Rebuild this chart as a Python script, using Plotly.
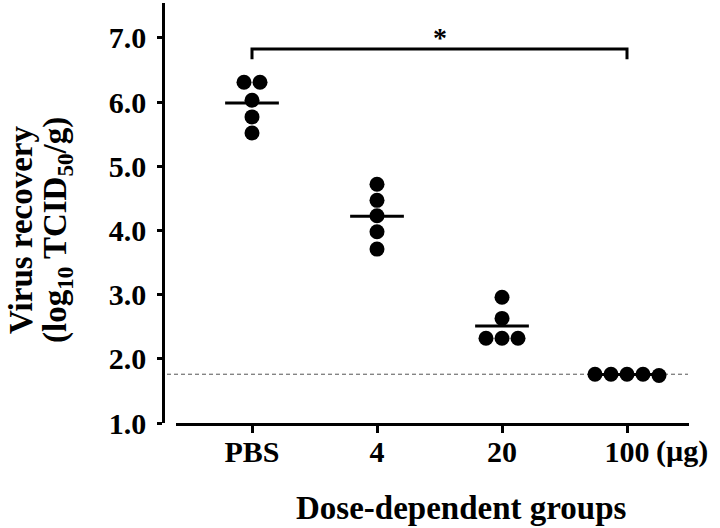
import numpy as np
import plotly.graph_objects as go

# ---- data ----
groups = ["PBS", "4", "20", "100"]
values = {
    "PBS": [6.31, 6.31, 6.03, 5.77, 5.52],
    "4":   [4.72, 4.47, 4.23, 3.98, 3.71],
    "20":  [2.96, 2.63, 2.32, 2.32, 2.32],
    "100": [1.76, 1.76, 1.76, 1.76, 1.74],
}
y_ticks = [1.0, 2.0, 3.0, 4.0, 5.0, 6.0, 7.0]
detection_limit = 1.76
sig_pair = ("PBS", "100")
sig_label = "*"

# ---- layout geometry ----
W, H = 720, 528
ml, mr, mt, mb = 163, 31, 3, 105
pw = W - ml - mr
ph = H - mt - mb
px_per_unit = 125.0
x_offset_px = 13
x_range = [-76 / px_per_unit, 3 + 62 / px_per_unit]
y_range = [1.0, 7.545]
dot_px = 15
spacing_units = 16 / px_per_unit
FONT = "Liberation Serif, Times New Roman, serif"

fig = go.Figure()

# beeswarm by rows of (near) tied values
for gi, g in enumerate(groups):
    vals = values[g]
    rows = []
    for v in vals:
        for r in rows:
            if abs(r[0] - v) < 0.1:
                r[1].append(v)
                break
        else:
            rows.append([v, [v]])
    xs, ys = [], []
    for _, members in rows:
        n = len(members)
        for k, v in enumerate(members):
            xs.append(gi + (k - (n - 1) / 2) * spacing_units)
            ys.append(v)
    fig.add_trace(go.Scatter(x=xs, y=ys, mode="markers",
                             marker=dict(size=dot_px, color="black"),
                             showlegend=False, hoverinfo="y"))
    m = float(np.mean(vals))
    fig.add_trace(go.Scatter(x=[gi - 0.215, gi + 0.215], y=[m, m], mode="lines",
                             line=dict(color="black", width=3),
                             showlegend=False, hoverinfo="skip"))

# detection limit dashed line
fig.add_shape(type="line", xref="paper", yref="y",
              x0=4 / pw, x1=(688 - ml) / pw, y0=detection_limit, y1=detection_limit,
              line=dict(color="#555555", width=1, dash="4px,3px"), layer="below")

# significance bracket
i0, i1 = groups.index(sig_pair[0]), groups.index(sig_pair[1])
yb, yl = 6.83, 6.67
fig.add_shape(type="path", xref="x", yref="y",
              path=f"M {i0},{yl} L {i0},{yb} L {i1},{yb} L {i1},{yl}",
              line=dict(color="black", width=3))
fig.add_annotation(x=(i0 + i1) / 2, y=yb, xref="x", yref="y", text=f"<b>{sig_label}</b>",
                   showarrow=False, yanchor="bottom", yshift=-6,
                   font=dict(family=FONT, size=28, color="black"))

fig.update_layout(
    width=W, height=H,
    margin=dict(l=ml, r=mr, t=mt, b=mb),
    plot_bgcolor="white", paper_bgcolor="white",
    font=dict(family=FONT, color="black"),
    xaxis=dict(domain=[x_offset_px / pw, 1], range=x_range,
               tickmode="array", tickvals=list(range(len(groups))), ticktext=groups,
               showline=True, linecolor="black", linewidth=2.5,
               ticks="outside", ticklen=7, tickwidth=2.5, tickcolor="black",
               showgrid=False, zeroline=False, ticklabelstandoff=-7,
               tickfont=dict(family=FONT, size=30, color="black", weight="bold")),
    yaxis=dict(range=y_range, anchor="free", position=0,
               tickmode="array", tickvals=y_ticks, ticktext=[f"{v:.1f}" for v in y_ticks],
               showline=True, linecolor="black", linewidth=2.5,
               ticks="outside", ticklen=5, tickwidth=2.5, tickcolor="black",
               showgrid=False, zeroline=False, ticklabelstandoff=5,
               tickfont=dict(family=FONT, size=30, color="black", weight="bold")),
)

# (µg) unit next to last tick label
fig.add_annotation(x=3 + 27 / px_per_unit, y=0, xref="x", yref="paper", text="<b>(µg)</b>",
                   showarrow=False, xanchor="left", yanchor="middle", yshift=-28,
                   font=dict(family=FONT, size=30, color="black"))

# axis titles
fig.add_annotation(x=(461 - ml) / pw, y=-(508 - (H - mb)) / ph,
                   xref="paper", yref="paper", text="<b>Dose-dependent groups</b>",
                   showarrow=False, xanchor="center", yanchor="middle",
                   font=dict(family=FONT, size=33, color="black"))
ymid = 1 - (230 - mt) / ph
fig.add_annotation(x=(21 - ml) / pw, y=ymid, xref="paper", yref="paper",
                   text="<b>Virus recovery</b>", textangle=-90, showarrow=False,
                   xanchor="center", yanchor="middle",
                   font=dict(family=FONT, size=33, color="black"))
fig.add_annotation(x=(57 - ml) / pw, y=ymid, xref="paper", yref="paper",
                   text="<b>(log<sub>10</sub> TCID<sub>50</sub>/g)</b>", textangle=-90,
                   showarrow=False, xanchor="center", yanchor="middle",
                   font=dict(family=FONT, size=33, color="black"))

fig.write_html("out.html", config={"displayModeBar": False},
               post_script="document.body.style.margin='0';")
